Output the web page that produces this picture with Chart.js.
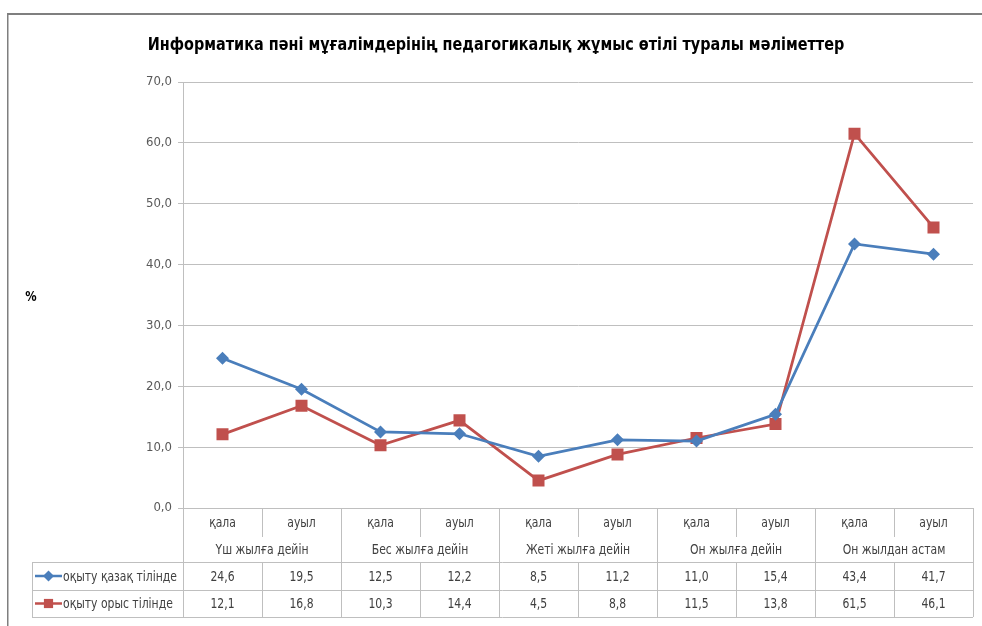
<!DOCTYPE html>
<html><head><meta charset="utf-8">
<script src="https://cdn.jsdelivr.net/npm/chart.js@4/dist/chart.umd.min.js"></script>
<style>html,body{margin:0;padding:0;background:#fff;}#wrap{position:relative;width:982px;height:626px;}</style>
</head><body><div id="wrap"><canvas id="c" width="982" height="626"></canvas></div>
<script>
const titleText = "Информатика пәні мұғалімдерінің педагогикалық жұмыс өтілі туралы мәліметтер";
const yAxisTitle = "%";
const subCategories = ["қала","ауыл","қала","ауыл","қала","ауыл","қала","ауыл","қала","ауыл"];
const groupLabels = ["Үш жылға дейін","Бес жылға дейін","Жеті жылға дейін","Он жылға дейін","Он жылдан астам"];
const seriesNames = ["оқыту қазақ тілінде","оқыту орыс тілінде"];
const kazakhValues = [24.6,19.5,12.5,12.2,8.5,11.2,11.0,15.4,43.4,41.7];
const russianValues = [12.1,16.8,10.3,14.4,4.5,8.8,11.5,13.8,61.5,46.1];
const yMin = 0, yMax = 70, yStep = 10;

const FONT = '"DejaVu Sans Condensed","Liberation Sans",sans-serif';
const BLUE = '#4A7EBB', RED = '#C0504D', GRID = '#BFBFBF', TXT = '#404040';
const fmt = v => Number(v).toFixed(1).replace('.', ',');

function squeezedText(ctx, text, x, y, align, sx) {
  ctx.save();
  ctx.translate(x, y);
  ctx.scale(sx, 1);
  ctx.textAlign = align;
  ctx.fillText(text, 0, 0);
  ctx.restore();
}

const tablePlugin = {
  id: 'tablePlugin',
  afterDraw(chart) {
    const ctx = chart.ctx, ca = chart.chartArea, xs = chart.scales.x;
    const n = subCategories.length;
    const px = i => xs.getPixelForValue(i);
    const bounds = [ca.left];
    for (let i = 0; i < n - 1; i++) bounds.push((px(i) + px(i + 1)) / 2);
    bounds.push(ca.right);
    const y0 = ca.bottom, yMid = y0 + 29, yRow1 = y0 + 54, yRow2 = yRow1 + 28, yRow3 = yRow2 + 27;
    const legLeft = 32;
    ctx.save();
    // frame
    ctx.fillStyle = '#7f7f7f';
    ctx.fillRect(7, 13, 975, 2);
    ctx.fillRect(7, 13, 1.5, 613);
    // title
    ctx.fillStyle = '#000';
    ctx.font = 'bold 18px ' + FONT;
    ctx.textBaseline = 'middle';
    squeezedText(ctx, titleText, 496, 45, 'center', 0.89);
    ctx.font = 'bold 14px ' + FONT;
    squeezedText(ctx, yAxisTitle, 31, 297, 'center', 0.9);
    // table lines
    ctx.strokeStyle = GRID; ctx.lineWidth = 1;
    const hl = (x1, x2, y) => { ctx.beginPath(); ctx.moveTo(x1, Math.round(y) + 0.5); ctx.lineTo(x2, Math.round(y) + 0.5); ctx.stroke(); };
    const vl = (x, y1, y2) => { ctx.beginPath(); ctx.moveTo(Math.round(x) + 0.5, y1); ctx.lineTo(Math.round(x) + 0.5, y2); ctx.stroke(); };
    hl(legLeft, ca.right, yRow1); hl(legLeft, ca.right, yRow2); hl(legLeft, ca.right, yRow3);
    vl(legLeft, yRow1, yRow3);
    vl(ca.left, y0, yRow3);
    for (let i = 1; i <= n; i++) {
      if (i % 2 === 0) vl(bounds[i], y0, yRow3);
      else { vl(bounds[i], y0, yMid); vl(bounds[i], yRow1, yRow3); }
    }
    // texts
    ctx.fillStyle = TXT;
    ctx.font = '14px ' + FONT;
    ctx.textBaseline = 'middle';
    const SX = 0.86;
    for (let i = 0; i < n; i++) {
      squeezedText(ctx, subCategories[i], px(i), y0 + 15, 'center', SX);
      squeezedText(ctx, fmt(kazakhValues[i]), px(i), (yRow1 + yRow2) / 2 + 1, 'center', SX);
      squeezedText(ctx, fmt(russianValues[i]), px(i), (yRow2 + yRow3) / 2 + 1, 'center', SX);
    }
    for (let g = 0; g < groupLabels.length; g++) {
      squeezedText(ctx, groupLabels[g], (px(2 * g) + px(2 * g + 1)) / 2, y0 + 42, 'center', SX);
    }
    // legend keys
    const keys = [[BLUE, 'rectRot', 5.5, (yRow1 + yRow2) / 2], [RED, 'rect', 6.5, (yRow2 + yRow3) / 2]];
    keys.forEach((k, j) => {
      ctx.strokeStyle = k[0]; ctx.lineWidth = 2.5;
      ctx.beginPath(); ctx.moveTo(35, k[3]); ctx.lineTo(62, k[3]); ctx.stroke();
      ctx.fillStyle = k[0];
      Chart.helpers.drawPoint(ctx, { pointStyle: k[1], radius: k[2], borderWidth: 0 }, 48.5, k[3]);
      ctx.fillStyle = TXT;
      squeezedText(ctx, seriesNames[j], 63, k[3] + 1, 'left', SX);
    });
    ctx.restore();
  }
};

new Chart(document.getElementById('c'), {
  type: 'line',
  data: {
    labels: subCategories,
    datasets: [
      { label: seriesNames[0], data: kazakhValues, borderColor: BLUE, backgroundColor: BLUE, borderWidth: 2.75,
        pointStyle: 'rectRot', pointRadius: 6.5, pointBorderWidth: 0, tension: 0 },
      { label: seriesNames[1], data: russianValues, borderColor: RED, backgroundColor: RED, borderWidth: 2.75,
        pointStyle: 'rect', pointRadius: 8.5, pointBorderWidth: 0, tension: 0 }
    ]
  },
  options: {
    responsive: false, animation: false,
    layout: { padding: { left: 0, top: 82, right: 9, bottom: 118 } },
    plugins: { legend: { display: false }, title: { display: false }, tooltip: { enabled: false } },
    scales: {
      x: { type: 'category', display: false, offset: true },
      y: {
        min: yMin, max: yMax,
        ticks: { stepSize: yStep, callback: v => fmt(v), color: '#595959', font: { family: FONT, size: 13 }, padding: 6 },
        grid: { color: GRID, tickLength: 5 },
        border: { color: GRID },
        afterFit(s) { s.width = 183; }
      }
    }
  },
  plugins: [tablePlugin]
});
</script></body></html>
